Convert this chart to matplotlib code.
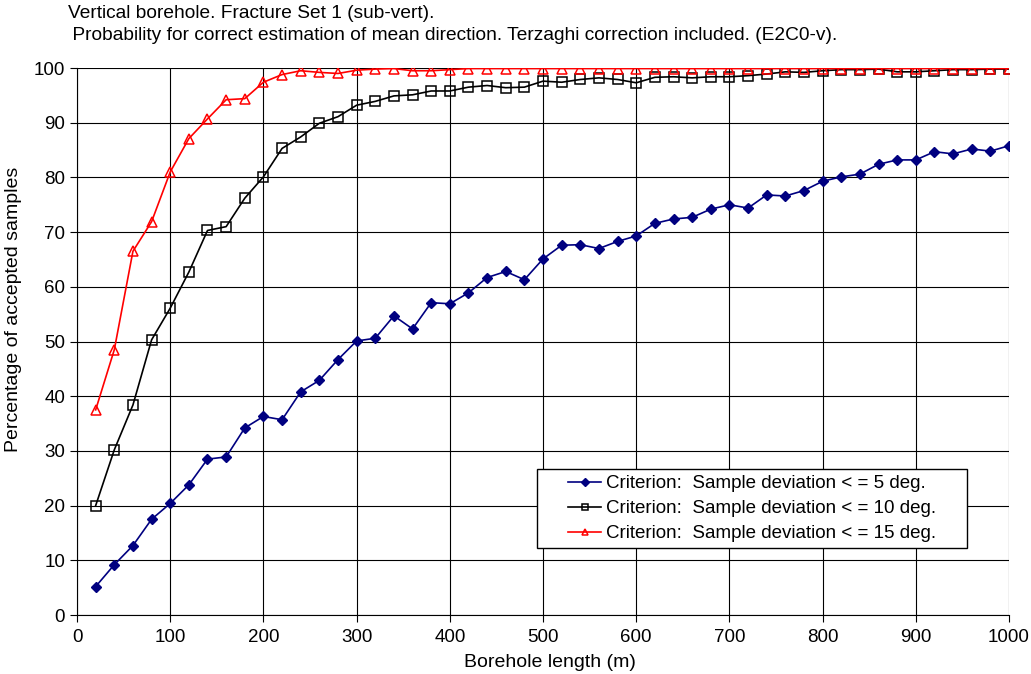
import numpy as np
import matplotlib.pyplot as plt
from matplotlib.patches import Rectangle

plt.rcParams['font.family'] = ['Liberation Sans', 'DejaVu Sans']

# borehole length (m)
length = np.arange(20, 1001, 20)

# percentage of accepted samples for each criterion
crit_5 = [5.2, 9.2, 12.7, 17.5, 20.4, 23.8, 28.5, 28.9, 34.2, 36.3,
          35.7, 40.8, 42.9, 46.7, 50.1, 50.6, 54.7, 52.3, 57.1, 56.9,
          58.9, 61.7, 62.8, 61.3, 65.1, 67.6, 67.7, 67.0, 68.3, 69.3,
          71.6, 72.4, 72.7, 74.2, 75.0, 74.4, 76.8, 76.6, 77.6, 79.3,
          80.1, 80.6, 82.4, 83.2, 83.2, 84.7, 84.3, 85.2, 84.8, 85.8]
crit_10 = [20.0, 30.2, 38.4, 50.3, 56.1, 62.7, 70.3, 71.0, 76.2, 80.1,
           85.3, 87.4, 89.9, 91.1, 93.2, 93.9, 94.9, 95.1, 95.8, 95.8,
           96.5, 96.8, 96.4, 96.5, 97.6, 97.4, 97.9, 98.2, 97.9, 97.3,
           98.3, 98.4, 98.2, 98.4, 98.4, 98.6, 98.9, 99.3, 99.2, 99.5,
           99.7, 99.7, 99.8, 99.3, 99.3, 99.5, 99.7, 99.7, 99.8, 99.8]
crit_15 = [37.5, 48.5, 66.5, 71.9, 81.0, 87.1, 90.7, 94.2, 94.4, 97.4,
           98.8, 99.5, 99.2, 99.0, 99.6, 99.8, 99.9, 99.5, 99.5, 99.7,
           99.9, 99.9, 99.9, 99.9, 99.9, 99.9, 99.9, 99.9, 99.9, 99.9,
           99.9, 99.9, 99.9, 99.9, 99.9, 99.9, 99.9, 99.9, 99.9, 99.9,
           99.9, 99.9, 99.9, 99.9, 99.9, 99.9, 99.9, 99.9, 99.9, 99.9]

labels = ['Criterion:  Sample deviation < = 5 deg.',
          'Criterion:  Sample deviation < = 10 deg.',
          'Criterion:  Sample deviation < = 15 deg.']

fig = plt.figure(figsize=(10.31, 6.74), dpi=100)
ax = fig.add_axes([0.0747, 0.0875, 0.904, 0.8116])

ax.plot(length, crit_5, color='#000080', lw=1.2, marker='D', ms=5,
        mfc='#000080', mec='#000080', label=labels[0])
ax.plot(length, crit_10, color='black', lw=1.2, marker='s', ms=6.5,
        mfc='none', mec='black', mew=1.1, label=labels[1])
ax.plot(length, crit_15, color='red', lw=1.2, marker='^', ms=7.5,
        mfc='none', mec='red', mew=1.1, label=labels[2])

ax.set_xlim(0, 1000)
ax.set_ylim(0, 100)
ax.set_xticks(np.arange(0, 1001, 100))
ax.set_yticks(np.arange(0, 101, 10))
ax.grid(True, color='black', lw=0.8)
ax.set_axisbelow(True)
for s in ['top', 'right']:
    ax.spines[s].set_visible(False)
ax.tick_params(direction='out', length=5, labelsize=13.5, color='black')
ax.tick_params(axis='x', pad=5)

ax.set_xlabel('Borehole length (m)', fontsize=14)
ax.xaxis.set_label_coords(0.5075, -0.072)
ax.set_ylabel('Percentage of accepted samples', fontsize=14)
ax.yaxis.set_label_coords(-0.059, 0.559)

fig.text(0.066, 0.9807, 'Vertical borehole. Fracture Set 1 (sub-vert).',
         fontsize=13.8, va='center')
fig.text(0.065, 0.948, ' Probability for correct estimation of mean direction. '
         'Terzaghi correction included. (E2C0-v).', fontsize=13.8, va='center')

# legend box, with the entries centred inside it
box = Rectangle((0.4936, 0.1225), 0.4614, 0.1445, transform=ax.transAxes,
                facecolor='white', edgecolor='black', lw=1.0, zorder=4)
ax.add_patch(box)
leg = ax.legend(loc='center', bbox_to_anchor=(0.7242, 0.1947), fontsize=13.5,
                frameon=False, borderpad=0.1, labelspacing=0.42,
                handlelength=1.8, handletextpad=0.25)
leg.set_zorder(5)
for h in leg.legend_handles:
    h.set_markersize(4.5)

fig.savefig('out.png', dpi=100)
